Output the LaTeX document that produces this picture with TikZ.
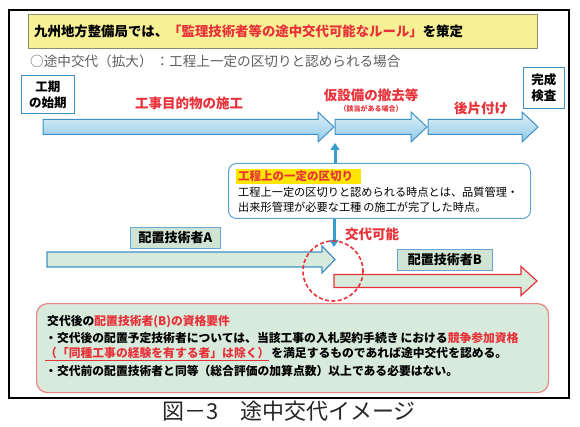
\documentclass[tikz,border=0pt]{standalone}
\usepackage{fontspec}
\setmainfont{Noto Sans CJK JP}
\usetikzlibrary{arrows.meta}
\definecolor{myred}{RGB}{232,50,58}
\definecolor{myblue}{RGB}{62,145,198}
\definecolor{arrowtop}{RGB}{226,242,250}
\definecolor{arrowbot}{RGB}{140,200,232}
\definecolor{mygreen}{RGB}{216,234,220}
\definecolor{labgreen}{RGB}{208,228,212}
\definecolor{yelfill}{RGB}{247,241,150}
\definecolor{yelborder}{RGB}{140,140,110}
\definecolor{pinkborder}{RGB}{236,130,130}
\definecolor{grtext}{RGB}{95,95,95}
\definecolor{hiyel}{RGB}{255,230,0}
\newcommand\blockarr[7]{\path[#1] (#2,#4-#5) -- (#3-#7,#4-#5) -- (#3-#7,#4-#6) -- (#3,#4) -- (#3-#7,#4+#6) -- (#3-#7,#4+#5) -- (#2,#4+#5) -- cycle;}
\begin{document}
\begin{tikzpicture}[x=1pt,y=-1pt,
  txt/.style={inner sep=0pt, anchor=west},
  redlab/.style={inner sep=0pt, text=myred, font=\fontsize{13.5}{15}\selectfont\bfseries},
  endbox/.style={draw=myblue, line width=0.9pt, fill=white, inner sep=0pt, align=center, font=\fontsize{12.5}{16}\selectfont\bfseries},
  labbox/.style={draw=myblue!80, line width=0.8pt, fill=labgreen, inner sep=0pt, font=\fontsize{13}{15}\selectfont\bfseries},
  toparr/.style={draw=myblue, line width=1pt, top color=arrowtop, bottom color=arrowbot},
  greenarrA/.style={draw=myblue, line width=1.2pt, fill=mygreen},
  greenarrB/.style={draw=myred, line width=1.2pt, fill=mygreen},
  blueconn/.style={draw=myblue!90!cyan, line width=3pt},
]
\useasboundingbox (0,0) rectangle (580,427);
\fill[white] (0,0) rectangle (580,427);
% outer frame
\draw[black, line width=1.3pt] (9,10) rectangle (569,398);
% yellow title box
\node[draw=yelborder, line width=1pt, fill=yelfill, minimum width=509pt, minimum height=34pt, anchor=north west, inner sep=0pt] (ybox) at (28,14) {};
\node[txt, font=\fontsize{13.4}{15}\selectfont\bfseries] (ytext) at (34,31) {九州地方整備局では、\textcolor{myred}{「監理技術者等の途中交代可能なルール」}を策定};
\node[txt, text=grtext, font=\fontsize{13.6}{15}\selectfont] (sub) at (30,61) {○途中交代（拡大）\ ：工程上一定の区切りと認められる場合};
% end boxes
\node[endbox, minimum width=53pt, minimum height=38pt, anchor=north west] (start) at (21,75) {工期\\の始期};
\node[endbox, minimum width=41pt, minimum height=41pt, anchor=north west] (finish) at (523,67) {完成\\検査};
% top arrows
\blockarr{toparr}{43}{334}{127}{7.5}{15}{16}
\blockarr{toparr}{335}{427}{127}{7.5}{15}{16}
\blockarr{toparr}{428}{538}{127}{7.5}{15}{16}
\node[redlab] (l1) at (189,103) {工事目的物の施工};
\node[redlab] (l2) at (371,95) {仮設備の撤去等};
\node[inner sep=0pt, text=myred, font=\fontsize{7}{8}\selectfont\bfseries] (l2b) at (371,109) {（該当がある場合）};
\node[redlab] (l3) at (481,108) {後片付け};
% info box
\node[draw=myblue!85, line width=1pt, rounded corners=8pt, fill=white, minimum width=302pt, minimum height=55pt, anchor=north west, inner sep=0pt] (info) at (228,163) {};
\fill[hiyel] (236,169) rectangle (361,184);
\node[txt, text=myred, font=\fontsize{11.5}{13}\selectfont\bfseries] (infot) at (238,176.5) {工程上の一定の区切り};
\node[txt, font=\fontsize{11.2}{13}\selectfont] (info2) at (238,192) {工程上一定の区切りと認められる時点とは、品質管理・};
\node[txt, font=\fontsize{11.2}{13}\selectfont] (info3) at (238,207) {出来形管理が必要な工種\,の施工が完了した時点。};
% connectors
\coordinate (cut) at (335,143);
\coordinate (swap) at (334,247);
\draw[blueconn, -{Triangle[length=7pt,width=9pt]}] (info.north -| cut) -- (cut);
\draw[blueconn, -{Triangle[length=7pt,width=9pt]}] (info.south -| swap) -- (swap);
\node[txt, text=myred, font=\fontsize{13.5}{15}\selectfont\bfseries] (koutai) at (345,234) {交代可能};
% technician arrows
\node[labbox, minimum width=90pt, minimum height=21pt, anchor=north west] (labA) at (130,227) {配置技術者A};
\blockarr{greenarrA}{47}{335}{259.5}{7.5}{13.5}{13}
\node[labbox, minimum width=95pt, minimum height=21pt, anchor=north west] (labB) at (397,249) {配置技術者B};
\blockarr{greenarrB}{334}{537}{281}{6.5}{14.5}{16}
\draw[myred, line width=1.6pt, dash pattern=on 4pt off 2.4pt] (333,271) circle[radius=30];
% bottom requirements box
\node[draw=pinkborder, line width=1.2pt, rounded corners=11pt, fill=mygreen, minimum width=512pt, minimum height=89pt, anchor=north west, inner sep=0pt] (req) at (36,303) {};
\node[txt, font=\fontsize{11.8}{13}\selectfont\bfseries] (r1) at (47,322) {交代後の\textcolor{myred}{配置技術者(B)の資格要件}};
\node[txt, font=\fontsize{11.8}{13}\selectfont\bfseries] (r2) at (45,338) {・交代後の配置予定技術者については、当該工事の入札契約手続き\,における\textcolor{myred}{競争参加資格}};
\node[txt, font=\fontsize{11.8}{13}\selectfont\bfseries] (r3) at (45,354.5) {\textcolor{myred}{\underline{（「同種工事の経験を有する者」は除く）}}\,を満足するものであれば途中交代を認める。};
\node[txt, font=\fontsize{11.8}{13}\selectfont\bfseries] (r4) at (45,371) {・交代前の配置技術者と同等（総合評価の加算点数）以上である必要はない。};
% caption
\node[inner sep=0pt, text=black!85, font=\fontsize{22}{25}\selectfont] (cap) at (289,411) {図－3　途中交代イメージ};
\end{tikzpicture}
\end{document}
